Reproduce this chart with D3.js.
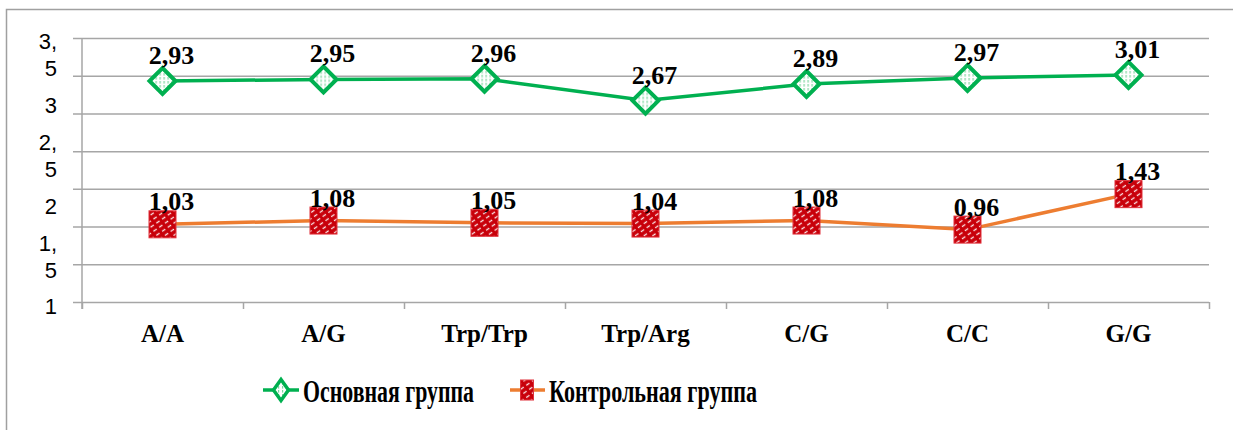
<!DOCTYPE html>
<html>
<head>
<meta charset="utf-8">
<script src="https://cdn.jsdelivr.net/npm/d3@7"></script>
<style>
  html, body { margin: 0; padding: 0; background: #fff; }
  svg { display: block; }
</style>
</head>
<body>
<svg id="chart" width="1233" height="430"></svg>
<script>
// ---- data ----
const categories   = ["A/A", "A/G", "Trp/Trp", "Trp/Arg", "C/G", "C/C", "G/G"];
const mainGroup    = [2.93, 2.95, 2.96, 2.67, 2.89, 2.97, 3.01];
const controlGroup = [1.03, 1.08, 1.05, 1.04, 1.08, 0.96, 1.43];
const seriesNames  = ["Основная группа", "Контрольная группа"];
const gridValues   = [0, 0.5, 1, 1.5, 2, 2.5, 3, 3.5];
const yTickValues  = [1, 1.5, 2, 2.5, 3, 3.5];
const yTickLabels  = ["1", "1,5", "2", "2,5", "3", "3,5"];

// ---- layout ----
const W = 1233, H = 430;
const plotLeft = 82, plotRight = 1209, plotTop = 38, plotBottom = 302;
const gridColor = "#a6a6a6";
const greenColor = "#00b050";
const orangeColor = "#ed7d31";
const serif = "'Liberation Serif', 'Times New Roman', serif";
const sans = "'Liberation Sans', Arial, sans-serif";
const fmt = v => d3.format(".2f")(v).replace(".", ",");

const svg = d3.select("#chart");

// outer frame
svg.append("rect")
  .attr("x", 6.5).attr("y", 9.5)
  .attr("width", W + 20).attr("height", H + 20)
  .attr("fill", "none").attr("stroke", "#a0a0a0").attr("stroke-width", 1.5);

// ---- scales ----
const x = d3.scaleBand().domain(categories).range([plotLeft, plotRight]).padding(0);
const xEdges = d3.scaleLinear().domain([0, categories.length]).range([plotLeft, plotRight]);
const y = d3.scaleLinear().domain([0, 3.5]).range([plotBottom, plotTop]);
// the value labels on the left sit on their own, evenly spread scale
const yLabel = d3.scaleLinear().domain([1, 3.5]).range([306, 54]);

// ---- patterns for markers ----
const defs = svg.append("defs");
const hatch = defs.append("pattern")
  .attr("id", "redHatch").attr("patternUnits", "userSpaceOnUse")
  .attr("width", 7).attr("height", 5)
  .attr("patternTransform", "rotate(-35)");
hatch.append("rect").attr("width", 7).attr("height", 5).attr("fill", "#c8000a");
hatch.append("line").attr("x1", 0).attr("x2", 4).attr("y1", 2.5).attr("y2", 2.5)
  .attr("stroke", "#ffffff").attr("stroke-width", 1.3).attr("opacity", 0.9);

const dots = defs.append("pattern")
  .attr("id", "greenDots").attr("patternUnits", "userSpaceOnUse")
  .attr("width", 4).attr("height", 4);
dots.append("rect").attr("width", 4).attr("height", 4).attr("fill", "#ffffff");
dots.append("rect").attr("x", 1).attr("y", 0).attr("width", 1.2).attr("height", 2.6)
  .attr("fill", "#7fd6a0");

// ---- gridlines (with left tick stubs) ----
const gridAxis = d3.axisRight(y)
  .tickValues(gridValues)
  .tickSize(plotRight - 73)
  .tickFormat("");
svg.append("g")
  .attr("transform", `translate(73,0)`)
  .call(gridAxis)
  .call(g => g.select(".domain").remove())
  .call(g => g.selectAll(".tick line").attr("stroke", gridColor).attr("stroke-width", 1.5));

// category boundary ticks below the x axis
svg.append("g")
  .attr("transform", `translate(0,${plotBottom})`)
  .call(d3.axisBottom(xEdges).tickValues(d3.range(categories.length + 1)).tickSize(7).tickFormat(""))
  .call(g => g.select(".domain").remove())
  .call(g => g.selectAll(".tick line").attr("stroke", gridColor).attr("stroke-width", 1.5));

// vertical axis line
svg.append("line")
  .attr("x1", plotLeft).attr("x2", plotLeft)
  .attr("y1", y(3.5)).attr("y2", plotBottom + 7)
  .attr("stroke", gridColor).attr("stroke-width", 1.5);

// ---- y labels (wrapped after the decimal comma) ----
const yAxis = d3.axisLeft(yLabel)
  .tickValues(yTickValues)
  .tickSize(0)
  .tickFormat((d, i) => yTickLabels[i]);
svg.append("g")
  .attr("transform", `translate(57,0)`)
  .call(yAxis)
  .attr("font-family", sans).attr("font-size", 22)
  .call(g => g.select(".domain").remove())
  .call(g => g.selectAll(".tick text")
    .attr("font-family", sans).attr("font-size", 22).attr("fill", "#000")
    .attr("x", 0).attr("dy", null)
    .each(function () {
      const t = d3.select(this);
      const s = t.text();
      t.text(null);
      const parts = s.includes(",") ? [s.slice(0, s.indexOf(",") + 1), s.slice(s.indexOf(",") + 1)] : [s];
      const lh = 27;
      const start = -((parts.length - 1) * lh) / 2;
      parts.forEach((p, k) => {
        t.append("tspan").attr("x", 0).attr("y", start + k * lh).attr("dy", "0.36em").text(p);
      });
    }));

// ---- x labels ----
svg.append("g")
  .attr("transform", `translate(0,${plotBottom})`)
  .call(d3.axisBottom(x).tickSize(0).tickPadding(0))
  .attr("font-family", serif).attr("font-size", 25)
  .call(g => g.select(".domain").remove())
  .call(g => g.selectAll(".tick text")
    .attr("font-family", serif).attr("font-size", 25).attr("font-weight", "bold")
    .attr("fill", "#000").attr("dy", null).attr("y", 40));

// ---- lines ----
const line = d3.line().x((d, i) => x(categories[i]) + x.bandwidth() / 2).y(d => y(d));
svg.append("path").datum(controlGroup)
  .attr("d", line).attr("fill", "none")
  .attr("stroke", orangeColor).attr("stroke-width", 3.5);
svg.append("path").datum(mainGroup)
  .attr("d", line).attr("fill", "none")
  .attr("stroke", greenColor).attr("stroke-width", 3.5);

const cx = i => x(categories[i]) + x.bandwidth() / 2;
const diamond = (hw, hh) => `M0,${-hh}L${hw},0L0,${hh}L${-hw},0Z`;

// control markers: hatched red squares
svg.append("g").selectAll("rect").data(controlGroup).join("rect")
  .attr("x", (d, i) => cx(i) - 13.5).attr("y", d => y(d) - 13.5)
  .attr("width", 27).attr("height", 27)
  .attr("fill", "url(#redHatch)").attr("stroke", "#e0303a").attr("stroke-width", 1);

// main markers: green-outlined diamonds
svg.append("g").selectAll("path").data(mainGroup).join("path")
  .attr("transform", (d, i) => `translate(${cx(i)},${y(d)})`)
  .attr("d", diamond(13, 13))
  .attr("fill", "url(#greenDots)").attr("stroke", greenColor).attr("stroke-width", 4)
  .attr("stroke-linejoin", "miter");

// ---- value labels ----
const labelStyle = sel => sel
  .attr("font-family", serif).attr("font-size", 26).attr("font-weight", "bold")
  .attr("fill", "#000").attr("text-anchor", "middle");

svg.append("g").selectAll("text").data(controlGroup).join("text")
  .call(labelStyle)
  .attr("x", (d, i) => cx(i) + 9).attr("y", d => y(d) - 14)
  .text(d => fmt(d));

svg.append("g").selectAll("text").data(mainGroup).join("text")
  .call(labelStyle)
  .attr("x", (d, i) => cx(i) + 9).attr("y", d => y(d) - 17)
  .text(d => fmt(d));

// ---- legend ----
const legendY = 390;
const lg = svg.append("g");
// main group entry
lg.append("line").attr("x1", 263).attr("x2", 299).attr("y1", legendY).attr("y2", legendY)
  .attr("stroke", greenColor).attr("stroke-width", 3.5);
lg.append("path").attr("transform", `translate(281,${legendY})`)
  .attr("d", diamond(7.5, 10.5))
  .attr("fill", "url(#greenDots)").attr("stroke", greenColor).attr("stroke-width", 3.5);
lg.append("text").attr("x", 303).attr("y", 402)
  .attr("font-family", serif).attr("font-size", 32).attr("font-weight", "bold")
  .attr("textLength", 171).attr("lengthAdjust", "spacingAndGlyphs")
  .text(seriesNames[0]);
// control group entry
lg.append("line").attr("x1", 510).attr("x2", 545).attr("y1", legendY).attr("y2", legendY)
  .attr("stroke", orangeColor).attr("stroke-width", 3.5);
lg.append("rect").attr("x", 527 - 6.5).attr("y", legendY - 10)
  .attr("width", 13).attr("height", 20)
  .attr("fill", "url(#redHatch)").attr("stroke", "#e0303a").attr("stroke-width", 1);
lg.append("text").attr("x", 549).attr("y", 402)
  .attr("font-family", serif).attr("font-size", 32).attr("font-weight", "bold")
  .attr("textLength", 208).attr("lengthAdjust", "spacingAndGlyphs")
  .text(seriesNames[1]);
</script>
</body>
</html>
